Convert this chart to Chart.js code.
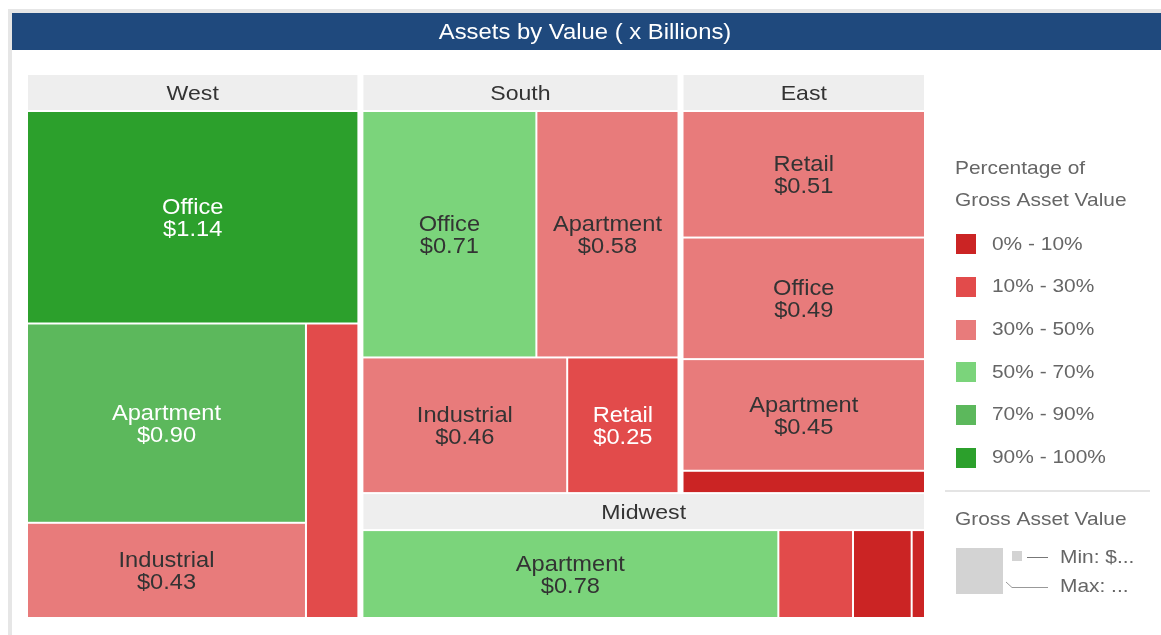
<!DOCTYPE html>
<html><head><meta charset="utf-8">
<script src="https://cdn.jsdelivr.net/npm/chart.js@4/dist/chart.umd.min.js"></script>
<style>html,body{margin:0;padding:0;background:#fff;}#wrap{width:1161px;height:635px;position:relative;}canvas{display:block;}</style>
</head><body><div id="wrap"><canvas id="c" width="1161" height="635" style="width:1161px;height:635px"></canvas></div>
<script>
// ---------------- data ----------------
const chartTitle = 'Assets by Value ( x Billions)';
const regionNames = ['West', 'South', 'East', 'Midwest'];
const cellRegions = ['West','West','West','West','South','South','South','South','East','East','East','East','Midwest','Midwest','Midwest','Midwest'];
const cellTypes = ['Office','Apartment','Industrial','Retail','Office','Apartment','Industrial','Retail','Retail','Office','Apartment','Industrial','Apartment','Industrial','Office','Retail'];
const cellValues = [1.14, 0.90, 0.43, 0.25, 0.71, 0.58, 0.46, 0.25, 0.51, 0.49, 0.45, 0.09, 0.78, 0.14, 0.11, 0.025];
const cellBands = [5, 4, 2, 1, 3, 2, 2, 1, 2, 2, 2, 0, 3, 1, 0, 0];
const bandLabels = ['0% - 10%', '10% - 30%', '30% - 50%', '50% - 70%', '70% - 90%', '90% - 100%'];
const colorLegendTitle = ['Percentage of', 'Gross Asset Value'];
const sizeLegendTitle = 'Gross Asset Value';
const sizeLegendLabels = ['Min: $...', 'Max: ...'];

// ---------------- styles / tiling structure ----------------
const bandColors = ['#cb2424', '#e24b4b', '#e87b7b', '#7bd47b', '#5cb85c', '#2ca02c'];
const whiteTextBands = [0, 1, 4, 5];
// strip structure: 'v' = column strip (items stacked), 'h' = row strip (items side by side)
const regionTiling = [['v', ['West']], ['h', ['South', 'East']], ['h', ['Midwest']]];
const cellTiling = {
  West: [['h', [0]], ['v', [1, 2]], ['v', [3]]],
  South: [['h', [0, 1]], ['v', [2]], ['v', [3]]],
  East: [['h', [0]], ['h', [1]], ['h', [2]], ['h', [3]]],
  Midwest: [['v', [0]], ['v', [1]], ['v', [2]], ['v', [3]]]
};
const FONT = '"Liberation Sans", Arial, sans-serif';
const STRETCH = 1.1;

function tile(rect, strips, valueOf) {
  const out = {};
  let remaining = 0;
  strips.forEach(s => s[1].forEach(k => remaining += valueOf(k)));
  let r = Object.assign({}, rect);
  strips.forEach(([dir, keys]) => {
    const s = keys.reduce((a, k) => a + valueOf(k), 0);
    const frac = remaining > 0 ? s / remaining : 0;
    if (dir === 'h') {
      const h = (r.y1 - r.y0) * frac;
      let x = r.x0;
      keys.forEach(k => {
        const w = (r.x1 - r.x0) * valueOf(k) / s;
        out[k] = { x0: x, x1: x + w, y0: r.y0, y1: r.y0 + h };
        x += w;
      });
      r.y0 += h;
    } else {
      const w = (r.x1 - r.x0) * frac;
      let y = r.y0;
      keys.forEach(k => {
        const h = (r.y1 - r.y0) * valueOf(k) / s;
        out[k] = { x0: r.x0, x1: r.x0 + w, y0: y, y1: y + h };
        y += h;
      });
      r.x0 += w;
    }
    remaining -= s;
  });
  return out;
}

function sText(ctx, text, x, y, size, color, align, weight) {
  ctx.save();
  ctx.font = (weight || 'normal') + ' ' + size + 'px ' + FONT;
  ctx.fillStyle = color;
  ctx.textAlign = align || 'left';
  ctx.textBaseline = 'middle';
  ctx.translate(x, y);
  ctx.scale(STRETCH, 1);
  ctx.fillText(text, 0, 0);
  ctx.restore();
}
function sWidth(ctx, text, size, weight) {
  ctx.save();
  ctx.font = (weight || 'normal') + ' ' + size + 'px ' + FONT;
  const w = ctx.measureText(text).width * STRETCH;
  ctx.restore();
  return w;
}

const treemapPlugin = {
  id: 'treemapDraw',
  beforeDraw(chart) {
    const ctx = chart.ctx;
    ctx.save();
    ctx.fillStyle = '#ffffff';
    ctx.fillRect(0, 0, chart.width, chart.height);
    ctx.fillStyle = '#e6e6e6';
    ctx.fillRect(8, 9, 1161 - 8, 4);
    ctx.fillRect(8, 9, 4, 635 - 9);
    ctx.fillStyle = '#1f497d';
    ctx.fillRect(12, 13, 1161 - 12, 37);
    ctx.restore();
    sText(ctx, chartTitle, 585, 33.5, 21.7, '#ffffff', 'center');
  },
  afterDatasetsDraw(chart) {
    const ctx = chart.ctx;
    const xs = chart.scales.x, ys = chart.scales.y;
    const px = v => xs.getPixelForValue(v);
    const py = v => ys.getPixelForValue(v);
    const unitX = 1 / (xs.right - xs.left), unitY = 1 / (ys.bottom - ys.top);
    const gapX = 4 * unitX, gapY = 0 * unitY, headerH = 37 * unitY;

    const regionTotal = {};
    regionNames.forEach(r => regionTotal[r] = 0);
    cellValues.forEach((v, i) => regionTotal[cellRegions[i]] += v);
    const regionRects = tile({ x0: xs.min, y0: ys.min, x1: xs.max, y1: ys.max }, regionTiling, k => regionTotal[k]);

    regionNames.forEach(rn => {
      const R = regionRects[rn];
      const idx = [];
      cellRegions.forEach((r, i) => { if (r === rn) idx.push(i); });
      // header
      const hx0 = px(R.x0) + 1, hx1 = px(R.x1 - gapX) - 1;
      const hy0 = py(R.y0) + 1, hy1 = py(R.y0 + headerH) - 1;
      ctx.fillStyle = '#eeeeee';
      ctx.fillRect(hx0, hy0, hx1 - hx0, hy1 - hy0);
      sText(ctx, rn, (hx0 + hx1) / 2, (hy0 + hy1) / 2 + 1.5, 21, '#333333', 'center');
      // cells
      const content = { x0: R.x0, y0: R.y0 + headerH, x1: R.x1 - gapX, y1: R.y1 - gapY };
      const rects = tile(content, cellTiling[rn], k => cellValues[idx[k]]);
      idx.forEach((gi, k) => {
        const c = rects[k];
        const x0 = px(c.x0) + 1, x1 = px(c.x1) - 1, y0 = py(c.y0) + 1, y1 = py(c.y1) - 1;
        ctx.fillStyle = bandColors[cellBands[gi]];
        ctx.fillRect(x0, y0, x1 - x0, y1 - y0);
        const white = whiteTextBands.includes(cellBands[gi]);
        const size = 21.5;
        const l1 = cellTypes[gi], l2 = '$' + cellValues[gi].toFixed(2);
        const tw = Math.max(sWidth(ctx, l1, size), sWidth(ctx, l2, size));
        if (tw + 10 < x1 - x0 && 50 < y1 - y0) {
          const cx = (x0 + x1) / 2, cy = (y0 + y1) / 2 + 2;
          const col = white ? '#ffffff' : '#333333';
          sText(ctx, l1, cx, cy - 11, size, col, 'center');
          sText(ctx, l2, cx, cy + 11, size, col, 'center');
        }
      });
    });
  },
  afterDraw(chart) {
    const ctx = chart.ctx;
    const lg = '#666666';
    sText(ctx, colorLegendTitle[0], 955, 169, 19, lg, 'left');
    sText(ctx, colorLegendTitle[1], 955, 201, 19, lg, 'left');
    bandLabels.forEach((lab, i) => {
      const y = 244.3 + i * 42.7;
      ctx.fillStyle = bandColors[i];
      ctx.fillRect(956, Math.round(y - 10), 20, 20);
      sText(ctx, lab, 992, y, 19, lg, 'left');
    });
    ctx.save();
    ctx.strokeStyle = '#e4e4e4';
    ctx.lineWidth = 2;
    ctx.beginPath(); ctx.moveTo(945, 491); ctx.lineTo(1150, 491); ctx.stroke();
    ctx.restore();
    sText(ctx, sizeLegendTitle, 955, 519.5, 19, lg, 'left');
    ctx.save();
    ctx.fillStyle = '#d3d3d3';
    ctx.fillRect(956, 548, 47, 46);
    ctx.fillRect(1012, 551, 10, 10);
    ctx.strokeStyle = '#777777';
    ctx.lineWidth = 1;
    ctx.beginPath(); ctx.moveTo(1027, 557.5); ctx.lineTo(1048, 557.5); ctx.stroke();
    ctx.strokeStyle = '#999999';
    ctx.beginPath(); ctx.moveTo(1006, 582); ctx.lineTo(1012, 587.5); ctx.lineTo(1048, 587.5); ctx.stroke();
    ctx.restore();
    sText(ctx, sizeLegendLabels[0], 1060, 558, 19, lg, 'left');
    sText(ctx, sizeLegendLabels[1], 1060, 587, 19, lg, 'left');
  }
};

const chart = new Chart(document.getElementById('c').getContext('2d'), {
  type: 'scatter',
  data: { datasets: [{ label: 'Gross Asset Value', data: [], pointRadius: 0 }] },
  options: {
    responsive: false,
    animation: false,
    events: [],
    layout: { padding: { left: 27, top: 74, right: 1161 - 929, bottom: 635 - 618 } },
    scales: {
      x: { type: 'linear', min: 0, max: 1, display: false },
      y: { type: 'linear', min: 0, max: 1, reverse: true, display: false }
    },
    plugins: { legend: { display: false }, tooltip: { enabled: false }, title: { display: false } }
  },
  plugins: [treemapPlugin]
});
</script>
</body></html>
